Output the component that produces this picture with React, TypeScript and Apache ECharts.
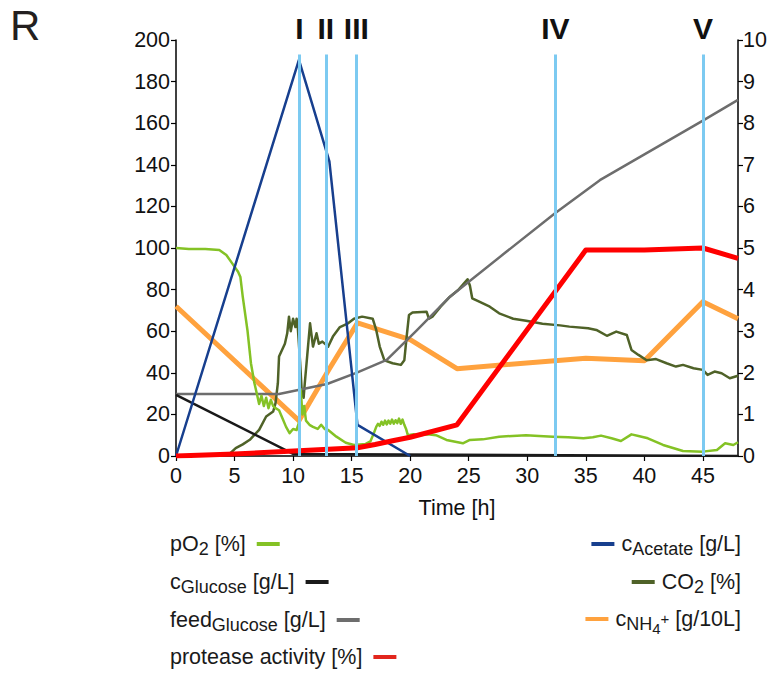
import React, { useEffect, useRef } from "react";
import * as echarts from "echarts";

const FONT = '"Liberation Sans", Arial, Helvetica, sans-serif';

const GREEN = "#84c225";
const OLIVE = "#4f6228";
const GRAY = "#6d6d6d";
const ORANGE = "#ffa23e";
const RED = "#ff0000";
const BLUE = "#173f8e";
const BLACK = "#1a1a1a";
const LIGHTBLUE = "#7ccaf1";

// Phase markers
const PHASE_TIMES = [10.55, 12.8, 15.4, 32.4, 45];
const PHASE_LABELS = ["I", "II", "III", "IV", "V"];
const PHASE_TOP = 193;

// pO2 [%] (left axis)
const PO2_T = [0, 1.1, 2.5, 3.7, 4.3, 4.8, 5.3, 5.5, 5.7, 6.1, 6.4, 6.7, 6.9, 7.1, 7.3, 7.5, 7.7, 7.9, 8.1, 8.3, 8.5, 8.8, 9.1, 9.4, 9.7, 10.0, 10.3, 10.5, 10.65, 10.8, 10.95, 11.1, 11.4, 11.7, 12.1, 12.4, 12.7, 13.0, 13.7, 14.5, 15.2, 16.2, 16.6, 16.9, 17.1, 17.25, 17.4, 17.55, 17.7, 17.85, 18.0, 18.15, 18.3, 18.45, 18.6, 18.75, 18.9, 19.05, 19.2, 19.35, 19.5, 19.65, 19.8, 20.3, 20.8, 21.5, 22.2, 23.1, 24.5, 25.1, 26.2, 27.6, 29.9, 31.0, 32.2, 33.5, 34.8, 35.6, 36.3, 37.2, 38.0, 38.9, 39.5, 40.3, 41.6, 43.3, 45.0, 46.2, 46.9, 47.6, 48];
const PO2_V = [100, 99.5, 99.5, 99, 96.6, 92.6, 88.6, 86, 76.6, 60.6, 44.6, 35, 30, 25, 29, 24, 28, 23, 27, 24, 23, 22, 18, 14, 11, 13, 12.5, 16, 32, 20, 24, 17, 15, 14, 13, 15, 13, 12.5, 9.3, 6.4, 5.3, 5.8, 7, 11, 14, 15.5, 14.5, 16.5, 15, 17, 15.2, 17, 15.5, 17.5, 15.5, 17.2, 15.8, 18, 15.5, 17.5, 15, 13, 10, 10.5, 10, 10.5, 10, 7.7, 6.1, 7.7, 8, 9.3, 10, 9.6, 9.3, 9.0, 8.5, 9.0, 9.8, 8.5, 7.2, 10.4, 9.6, 8.5, 5.3, 2.4, 2.1, 2.9, 6.1, 5.3, 6.6];

// cGlucose [g/L] (right axis)
const GLC_T = [0, 10, 48];
const GLC_V = [1.47, 0.05, 0];

// feedGlucose [g/L] (right axis)
const FEED_T = [0, 8.8, 12.9, 15.4, 18, 20.5, 23.4, 28, 32.4, 36.2, 45, 48];
const FEED_V = [1.49, 1.49, 1.73, 2.0, 2.31, 3.0, 3.83, 4.86, 5.84, 6.63, 8.06, 8.56];

// protease activity [%] (left axis)
const PROT_T = [0, 5, 10.5, 15.5, 17, 18.5, 20, 24, 35, 40, 45, 48];
const PROT_V = [0, 1, 2.5, 4, 5.5, 7.3, 9, 15, 99, 99, 100, 95];

// cAcetate [g/L] (right axis)
const ACE_T = [0, 10.5, 13.1, 15.5, 20];
const ACE_V = [0, 9.52, 7.08, 0.75, 0];

// CO2 [%] (right axis)
const CO2_T = [0, 4.5, 5.1, 5.7, 6.3, 7.1, 7.7, 8.3, 8.5, 8.7, 8.8, 9.3, 9.5, 9.65, 9.8, 10.0, 10.2, 10.3, 10.4, 10.6, 10.75, 10.9, 11.0, 11.2, 11.45, 11.7, 12.0, 12.2, 12.5, 13.0, 13.4, 14.0, 14.7, 15.2, 15.9, 16.8, 17.1, 17.4, 17.8, 18.5, 19.2, 19.5, 19.7, 19.9, 20.2, 21.4, 21.6, 21.9, 22.6, 23.4, 24.1, 24.6, 24.9, 25.1, 25.3, 25.9, 26.8, 27.6, 28.8, 29.9, 31.3, 32.8, 33.6, 35.2, 35.9, 36.8, 37.6, 38.5, 38.9, 39.5, 40.2, 41.0, 41.9, 42.7, 43.3, 44.2, 45.0, 45.4, 46.0, 46.6, 47.3, 48];
const CO2_V = [0.01, 0.03, 0.19, 0.28, 0.39, 0.63, 0.95, 1.07, 1.27, 1.75, 2.39, 2.7, 2.95, 3.35, 3.0, 3.3, 3.1, 3.3, 3.1, 2.25, 1.5, 1.4, 1.75, 2.39, 3.19, 2.63, 2.95, 2.7, 2.75, 2.63, 2.87, 3.1, 3.19, 3.3, 3.35, 3.3, 3.03, 2.63, 2.3, 2.23, 2.19, 2.3, 2.87, 3.39, 3.45, 3.47, 3.3, 3.35, 3.59, 3.83, 3.99, 4.15, 4.25, 4.1, 3.79, 3.71, 3.59, 3.43, 3.3, 3.25, 3.18, 3.14, 3.11, 3.07, 3.03, 2.89, 2.99, 2.91, 2.55, 2.43, 2.3, 2.33, 2.23, 2.15, 2.19, 2.11, 2.07, 1.95, 2.03, 1.99, 1.87, 1.93];

// cNH4+ [g/10L] (right axis)
const NH4_T = [0, 10.5, 13.1, 15.5, 20, 24, 35, 40, 45, 48];
const NH4_V = [3.6, 0.85, 2.1, 3.2, 2.8, 2.1, 2.35, 2.29, 3.71, 3.3];

const zip = (t: number[], v: number[]) => t.map((x, i) => [x, v[i]]);

type Part = { t: string; k?: "sub" | "sub2" | "sup" };
type LegendItem = { parts: Part[]; color: string; y: number };

const LEGEND_LEFT: LegendItem[] = [
  { parts: [{ t: "pO" }, { t: "2", k: "sub" }, { t: " [%]" }], color: GREEN, y: 544 },
  { parts: [{ t: "c" }, { t: "Glucose", k: "sub" }, { t: " [g/L]" }], color: BLACK, y: 582 },
  { parts: [{ t: "feed" }, { t: "Glucose", k: "sub" }, { t: " [g/L]" }], color: GRAY, y: 620 },
  { parts: [{ t: "protease activity [%]" }], color: "#e2261d", y: 657 },
];
const LEGEND_RIGHT: LegendItem[] = [
  { parts: [{ t: "c" }, { t: "Acetate", k: "sub" }, { t: " [g/L]" }], color: BLUE, y: 544 },
  { parts: [{ t: "CO" }, { t: "2", k: "sub" }, { t: " [%]" }], color: OLIVE, y: 582 },
  { parts: [{ t: "c" }, { t: "NH", k: "sub" }, { t: "4", k: "sub2" }, { t: "+", k: "sup" }, { t: " [g/10L]" }], color: ORANGE, y: 619 },
];

const SIZES: Record<string, number> = { main: 21.5, sub: 18, sub2: 15, sup: 15 };
const OFFS: Record<string, number> = { main: 0, sub: 5, sub2: 9, sup: -1 };

function buildLegend(): any[] {
  const canvas = document.createElement("canvas");
  const ctx = canvas.getContext("2d")!;
  const measure = (t: string, s: number) => {
    ctx.font = `${s}px ${FONT}`;
    return ctx.measureText(t).width;
  };
  const els: any[] = [];
  const textEls = (item: LegendItem, x0: number) => {
    let x = x0;
    for (const p of item.parts) {
      const k = p.k || "main";
      const s = SIZES[k];
      els.push({
        type: "text",
        x,
        y: item.y + OFFS[k],
        style: {
          text: p.t,
          fontSize: s,
          fontFamily: FONT,
          fill: "#1a1a1a",
          align: "left",
          verticalAlign: "middle",
          textAlign: "left",
          textVerticalAlign: "middle",
        },
      });
      x += measure(p.t, s);
    }
    return x;
  };
  const width = (item: LegendItem) =>
    item.parts.reduce((a, p) => a + measure(p.t, SIZES[p.k || "main"]), 0);
  for (const item of LEGEND_LEFT) {
    const end = textEls(item, 170);
    els.push({
      type: "line",
      shape: { x1: end + 11, y1: item.y, x2: end + 34, y2: item.y },
      style: { stroke: item.color, lineWidth: 4 },
    });
  }
  for (const item of LEGEND_RIGHT) {
    const w = width(item);
    const start = 741 - w;
    textEls(item, start);
    els.push({
      type: "line",
      shape: { x1: start - 30, y1: item.y, x2: start - 7, y2: item.y },
      style: { stroke: item.color, lineWidth: 4 },
    });
  }
  els.push({
    type: "text",
    x: 10,
    y: 4,
    style: { text: "R", fontSize: 42, fontFamily: FONT, fill: "#231f20", align: "left", verticalAlign: "top", textAlign: "left", textVerticalAlign: "top" },
  });
  return els;
}

export default function App() {
  const ref = useRef<HTMLDivElement>(null);
  useEffect(() => {
    document.body.style.margin = "0";
    const chart = echarts.init(ref.current!, null, { renderer: "svg" });
    const axisCommon = {
      axisLine: { show: true, lineStyle: { color: "#000", width: 1.5 } },
      axisTick: { show: true, length: 5, lineStyle: { color: "#000", width: 1.2 } },
      splitLine: { show: false },
    };
    const lineSeries = (name: string, data: number[][], color: string, width: number, yAxisIndex: number) => ({
      name,
      type: "line",
      data,
      yAxisIndex,
      showSymbol: false,
      symbol: "none",
      silent: true,
      lineStyle: { color, width, join: "round" },
      itemStyle: { color },
    });
    const option: any = {
      animation: false,
      grid: { left: 176, right: 33, top: 40, bottom: 219 },
      xAxis: {
        type: "value",
        min: 0,
        max: 48,
        interval: 5,
        ...axisCommon,
        axisLabel: { fontSize: 21.5, color: "#111", margin: 9, fontFamily: FONT, showMaxLabel: false },
        name: "Time [h]",
        nameLocation: "middle",
        nameGap: 41,
        nameTextStyle: { fontSize: 21.5, color: "#111", fontFamily: FONT },
      },
      yAxis: [
        {
          type: "value",
          min: 0,
          max: 200,
          interval: 20,
          position: "left",
          ...axisCommon,
          axisLabel: { fontSize: 21.5, color: "#111", margin: 6, fontFamily: FONT },
        },
        {
          type: "value",
          min: 0,
          max: 10,
          interval: 1,
          position: "right",
          ...axisCommon,
          axisLabel: { fontSize: 21.5, color: "#111", margin: 5, fontFamily: FONT },
        },
      ],
      series: [
        lineSeries("cNH4+", zip(NH4_T, NH4_V), ORANGE, 5, 1),
        lineSeries("CO2", zip(CO2_T, CO2_V), OLIVE, 2.5, 1),
        lineSeries("feedGlucose", zip(FEED_T, FEED_V), GRAY, 2.5, 1),
        lineSeries("pO2", zip(PO2_T, PO2_V), GREEN, 2.5, 0),
        lineSeries("cGlucose", zip(GLC_T, GLC_V), BLACK, 2.5, 1),
        lineSeries("cAcetate", zip(ACE_T, ACE_V), BLUE, 2.5, 1),
        lineSeries("protease activity", zip(PROT_T, PROT_V), RED, 5, 0),
        {
          name: "phases",
          type: "line",
          yAxisIndex: 0,
          data: PHASE_TIMES.map((t) => [t, 0]),
          showSymbol: false,
          symbol: "none",
          lineStyle: { opacity: 0, width: 0 },
          silent: true,
          z: 10,
          markLine: {
            symbol: ["none", "none"],
            silent: true,
            animation: false,
            lineStyle: { color: LIGHTBLUE, width: 3, type: "solid" },
            label: {
              show: true,
              position: "end",
              fontSize: 30,
              fontWeight: "bold",
              color: "#111",
              fontFamily: FONT,
              distance: 11,
            },
            emphasis: { disabled: true },
            data: PHASE_TIMES.map((t, i) => [
              { coord: [t, 0], label: { formatter: PHASE_LABELS[i] } },
              { coord: [t, PHASE_TOP] },
            ]),
          },
        },
      ],
      graphic: buildLegend(),
    };
    chart.setOption(option);
    return () => chart.dispose();
  }, []);
  return <div ref={ref} style={{ width: 771, height: 675 }} />;
}
